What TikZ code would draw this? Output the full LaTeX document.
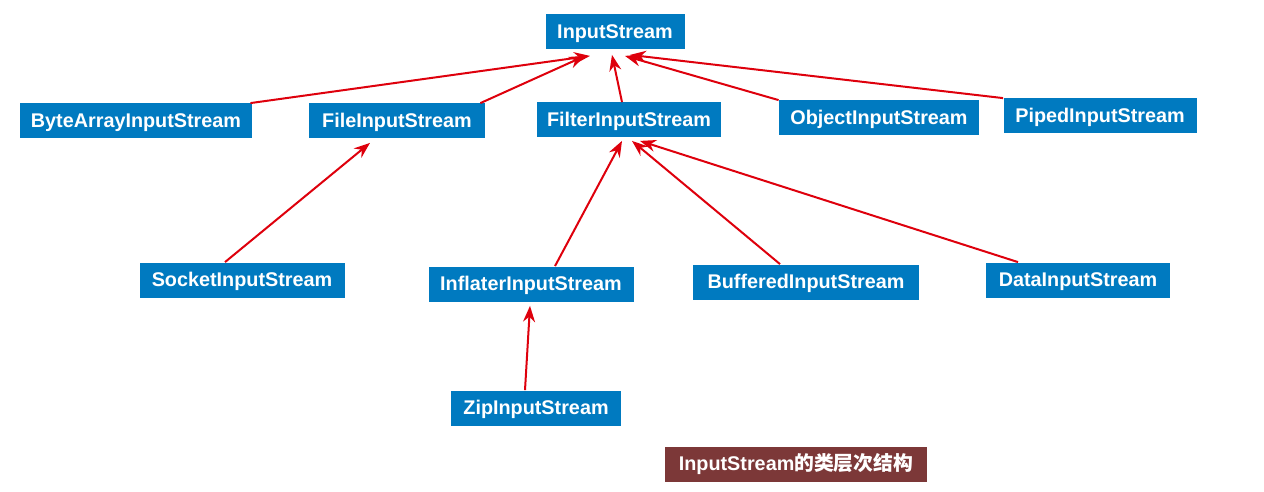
\documentclass[tikz,border=0pt]{standalone}
\usepackage{fontspec}
\setmainfont{Liberation Sans}
\newfontfamily\cjk{Noto Sans CJK SC}
\usepackage{xcolor}
\usepackage{tikz}
\usetikzlibrary{positioning,arrows.meta}
\definecolor{streamblue}{RGB}{0,122,192}
\definecolor{captionred}{RGB}{124,56,56}
\definecolor{arrowred}{RGB}{222,0,12}

\tikzset{
  cls/.style={fill=streamblue, text=white, minimum height=17.5pt, inner sep=0pt,
    text height=6.6pt, text depth=0pt, font=\fontsize{9.9}{12}\selectfont\bfseries},
  extends/.style={draw=arrowred, line width=1pt, -{Stealth[length=8pt,width=6pt]}}
}

\begin{document}
\begin{tikzpicture}[x=0.5pt, y=-0.5pt]
\useasboundingbox (0,0) rectangle (1264,492);
% classes
\node[cls, minimum width=69.5pt] (input) at (615,32) {InputStream};
\node[cls, minimum width=116pt] (byte) at (136,121) {ByteArrayInputStream};
\node[cls, minimum width=88pt] (file) at (397,121) {FileInputStream};
\node[cls, minimum width=92pt] (filter) at (629,120) {FilterInputStream};
\node[cls, minimum width=100pt] (object) at (879,118) {ObjectInputStream};
\node[cls, minimum width=96.5pt] (piped) at (1100,116) {PipedInputStream};
\node[cls, minimum width=102.5pt] (socket) at (242,280) {SocketInputStream};
\node[cls, minimum width=102.5pt] (inflater) at (531,284) {InflaterInputStream};
\node[cls, minimum width=113pt] (buffered) at (806,282) {BufferedInputStream};
\node[cls, minimum width=92pt] (data) at (1078,280) {DataInputStream};
\node[cls, minimum width=85pt] (zip) at (536,408) {ZipInputStream};
\node[cls, fill=captionred, minimum width=131pt] (caption) at (796,464) {InputStream{\cjk 的类层次结构}};
% inheritance
\draw[extends] ([xshift=-1pt]byte.north east) -- ([xshift=-12.5pt,yshift=-3pt]input.south);
\draw[extends] ([xshift=-2.5pt]file.north east) -- ([xshift=-15pt,yshift=-3pt]input.south);
\draw[extends] ([xshift=-3.5pt]filter.north) -- ([xshift=-1.5pt,yshift=-2.5pt]input.south);
\draw[extends] (object.north west) -- ([xshift=5pt,yshift=-3pt]input.south);
\draw[extends] (piped.north west) -- ([xshift=7.5pt,yshift=-2.5pt]input.south);
\draw[extends] ([xshift=-8.5pt]socket.north) -- ([xshift=-13.5pt,yshift=-2pt]file.south);
\draw[extends] ([xshift=12pt]inflater.north) -- ([xshift=-3.5pt,yshift=-1.5pt]filter.south);
\draw[extends] ([xshift=-13pt]buffered.north) -- ([xshift=1.5pt,yshift=-1.5pt]filter.south);
\draw[extends] ([xshift=-30pt]data.north) -- ([xshift=5.5pt,yshift=-1.5pt]filter.south);
\draw[extends] ([xshift=-5.5pt]zip.north) -- ([xshift=-0.5pt,yshift=-2pt]inflater.south);
\end{tikzpicture}
\end{document}
